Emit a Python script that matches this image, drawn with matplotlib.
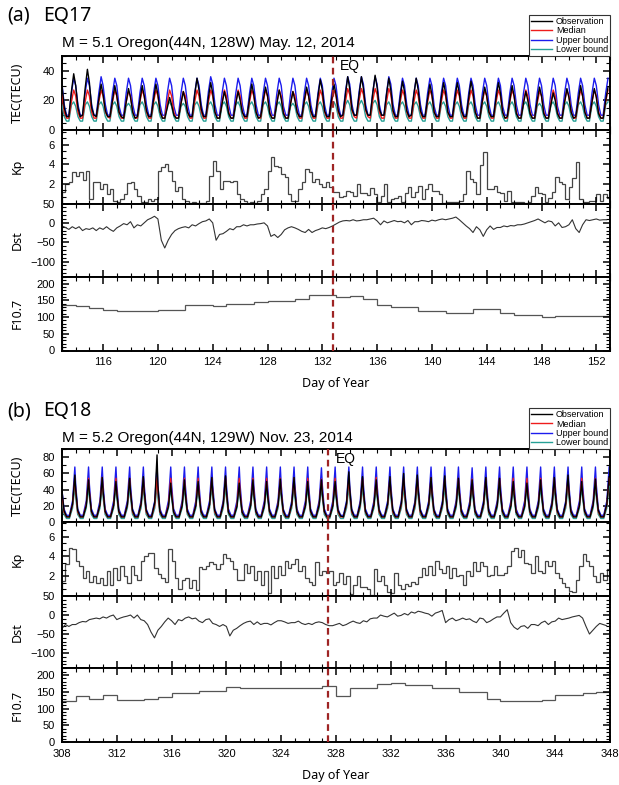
import numpy as np
import matplotlib
matplotlib.use('Agg')
import matplotlib.pyplot as plt
from matplotlib.ticker import MultipleLocator

plt.rcParams['font.family'] = ['Liberation Sans', 'DejaVu Sans']

# ---------------- data ----------------
# hours (UT) of the samples kept for each day
tec_hours_a = [0, 4, 8, 12, 16.5, 20.5]
tec_hours_b = [0, 3.5, 8, 13, 18.5, 22.5]
kp_hours = [0, 6, 12, 18]
dst_hours = [0, 6, 12, 18]

# EQ17 : days 113..152
first_day_a = 113
eq_day_a = 132.75
obs_a = [
    [30, 15, 9, 9, 26, 38], [30, 15, 9, 10, 28, 41], [32, 15, 10, 9, 21, 31], [24, 13, 9, 9, 20, 30], [23, 12, 9, 8, 19, 28],
    [22, 12, 8, 9, 20, 30], [23, 13, 9, 9, 21, 31], [24, 12, 8, 8, 15, 22], [17, 10, 8, 8, 18, 26], [20, 12, 9, 9, 24, 35],
    [27, 14, 9, 9, 22, 32], [25, 12, 8, 8, 18, 26], [20, 11, 8, 8, 18, 26], [20, 12, 9, 9, 21, 31], [24, 12, 8, 9, 20, 29],
    [23, 11, 8, 8, 18, 27], [21, 11, 8, 8, 18, 26], [20, 12, 9, 9, 20, 29], [23, 13, 9, 9, 23, 34], [27, 13, 9, 9, 21, 31],
    [24, 13, 9, 10, 24, 36], [28, 14, 10, 10, 24, 36], [28, 14, 10, 10, 25, 37], [29, 14, 10, 10, 24, 35], [27, 13, 9, 9, 22, 33],
    [26, 13, 9, 10, 24, 35], [27, 13, 9, 9, 21, 31], [24, 12, 9, 9, 22, 32], [25, 12, 9, 9, 22, 32], [25, 13, 9, 9, 22, 33],
    [26, 12, 8, 8, 20, 29], [23, 12, 9, 9, 22, 32], [25, 12, 8, 9, 20, 30], [23, 11, 8, 8, 18, 26], [20, 11, 8, 8, 20, 29],
    [23, 11, 8, 8, 17, 25], [20, 11, 8, 8, 19, 28], [22, 12, 8, 9, 20, 30], [23, 12, 8, 8, 19, 28], [22, 11, 8, 8, 20, 29],
]
median_a = [
    [24, 12, 8, 8, 19, 27], [23, 12, 8, 8, 19, 27], [23, 12, 8, 8, 19, 27], [23, 12, 9, 8, 19, 27], [23, 12, 8, 8, 19, 26],
    [23, 12, 8, 8, 19, 27], [23, 12, 8, 8, 19, 27], [23, 12, 8, 8, 19, 27], [23, 12, 8, 8, 18, 26], [23, 12, 8, 8, 19, 27],
    [23, 12, 8, 8, 19, 27], [23, 12, 8, 8, 19, 27], [23, 12, 8, 8, 19, 27], [23, 12, 8, 8, 19, 27], [23, 12, 8, 8, 19, 27],
    [23, 12, 8, 8, 19, 27], [23, 12, 8, 8, 18, 26], [23, 12, 8, 8, 19, 27], [23, 12, 8, 8, 19, 27], [23, 12, 8, 8, 19, 27],
    [23, 12, 8, 8, 19, 28], [24, 13, 9, 8, 20, 28], [24, 13, 9, 8, 20, 28], [24, 12, 8, 8, 19, 28], [24, 12, 8, 8, 19, 27],
    [23, 12, 8, 8, 19, 27], [23, 12, 8, 8, 19, 27], [23, 12, 8, 8, 19, 27], [23, 12, 8, 8, 19, 27], [23, 12, 8, 8, 19, 27],
    [23, 12, 8, 8, 19, 27], [23, 12, 8, 8, 19, 27], [23, 12, 8, 8, 19, 27], [23, 12, 8, 8, 19, 27], [23, 12, 8, 8, 18, 26],
    [23, 12, 8, 8, 19, 27], [23, 12, 8, 8, 19, 27], [23, 12, 8, 8, 19, 27], [23, 12, 8, 8, 19, 27], [23, 12, 8, 8, 19, 27],
]
upper_a = [
    [31, 17, 10, 10, 25, 35], [30, 17, 10, 10, 25, 35], [30, 17, 10, 10, 25, 36], [30, 17, 10, 10, 25, 35], [30, 16, 10, 10, 25, 35],
    [30, 17, 10, 10, 25, 35], [30, 17, 10, 10, 25, 35], [30, 17, 10, 10, 25, 35], [30, 16, 10, 10, 25, 35], [30, 17, 10, 10, 25, 35],
    [30, 17, 10, 10, 26, 36], [31, 17, 10, 10, 25, 35], [30, 17, 10, 10, 25, 35], [30, 17, 10, 10, 25, 35], [30, 17, 10, 10, 25, 35],
    [30, 17, 10, 10, 25, 35], [30, 16, 10, 10, 25, 35], [30, 17, 10, 10, 25, 35], [30, 17, 10, 10, 25, 35], [30, 17, 10, 10, 25, 35],
    [30, 17, 10, 10, 26, 36], [31, 17, 10, 10, 26, 36], [31, 17, 10, 10, 26, 36], [31, 17, 10, 10, 25, 36], [31, 17, 10, 10, 25, 35],
    [30, 17, 10, 10, 25, 35], [30, 17, 10, 10, 25, 35], [30, 16, 10, 10, 25, 35], [30, 17, 10, 10, 25, 35], [30, 17, 10, 10, 25, 35],
    [30, 17, 10, 10, 25, 35], [30, 17, 10, 10, 25, 35], [30, 16, 10, 10, 25, 35], [30, 17, 10, 10, 25, 35], [30, 17, 10, 10, 25, 35],
    [30, 17, 10, 10, 25, 35], [30, 16, 10, 10, 25, 35], [30, 17, 10, 10, 25, 35], [30, 17, 10, 10, 25, 35], [30, 17, 10, 10, 25, 35],
]
lower_a = [
    [17, 9, 6, 6, 17, 19], [16, 9, 6, 6, 17, 19], [16, 9, 6, 6, 17, 19], [16, 9, 6, 6, 17, 19], [16, 9, 6, 6, 16, 18],
    [16, 9, 6, 6, 17, 19], [16, 9, 6, 6, 17, 19], [16, 9, 6, 6, 17, 19], [16, 9, 6, 6, 16, 18], [16, 9, 6, 6, 17, 19],
    [16, 9, 6, 6, 17, 19], [16, 9, 6, 6, 17, 19], [16, 9, 6, 6, 17, 19], [16, 9, 6, 6, 17, 19], [16, 9, 6, 6, 17, 19],
    [16, 9, 6, 6, 17, 19], [16, 9, 6, 6, 16, 18], [16, 9, 6, 6, 17, 19], [16, 9, 6, 6, 17, 19], [16, 9, 6, 6, 17, 19],
    [16, 9, 6, 6, 17, 20], [17, 9, 6, 6, 17, 20], [17, 9, 6, 6, 18, 20], [17, 9, 6, 6, 17, 19], [16, 9, 6, 6, 17, 19],
    [16, 9, 6, 6, 17, 19], [16, 9, 6, 6, 17, 19], [16, 9, 6, 6, 17, 19], [16, 9, 6, 6, 17, 19], [16, 9, 6, 6, 17, 19],
    [16, 9, 6, 6, 17, 19], [16, 9, 6, 6, 17, 19], [16, 9, 6, 6, 17, 19], [16, 9, 6, 6, 17, 19], [16, 9, 6, 6, 16, 18],
    [16, 9, 6, 6, 17, 19], [16, 9, 6, 6, 17, 19], [16, 9, 6, 6, 17, 19], [16, 9, 6, 6, 17, 19], [16, 9, 6, 6, 17, 19],
]
kp_a = [
    [1.2, 2.0, 2.2, 3.2], [2.8, 3.2, 2.4, 3.3], [0.5, 2.2, 2.2, 1.5], [2.0, 1.0, 1.5, 0.3], [0.2, 0.5, 1.0, 2.1],
    [2.2, 1.5, 0.8, 0.2], [0.2, 0.5, 0.3, 0.5], [3.3, 3.7, 4.0, 3.3], [2.3, 1.3, 1.7, 0.5], [0.3, 0.1, 0.2, 0.1],
    [0.1, 0.1, 0.3, 2.8], [4.3, 3.3, 1.5, 2.3], [2.3, 2.2, 2.3, 1.0], [0.5, 0.3, 0.1, 0.2], [0.1, 0.3, 1.0, 1.5],
    [3.3, 4.7, 3.8, 3.7], [3.0, 2.7, 1.0, 0.3], [0.3, 1.5, 2.2, 3.5], [3.2, 2.2, 2.5, 2.0], [1.7, 2.2, 1.7, 1.2],
    [1.2, 0.7, 0.8, 1.3], [1.2, 0.8, 2.0, 1.1], [1.1, 0.9, 1.6, 1.0], [0.2, 0.8, 2.0, 0.2], [0.5, 0.6, 0.8, 0.2],
    [1.1, 1.7, 0.7, 1.2], [1.8, 0.5, 1.5, 2.0], [1.3, 1.3, 1.0, 0.1], [0.2, 0.2, 0.2, 0.2], [0.3, 1.0, 3.3, 2.5],
    [2.2, 1.0, 3.9, 5.3], [1.5, 1.5, 1.8, 1.2], [1.1, 0.3, 1.3, 0.2], [0.2, 0.2, 0.2, 0.1], [0.2, 0.8, 1.7, 1.1],
    [1.0, 0.2, 0.6, 1.2], [2.7, 2.2, 2.0, 0.5], [1.7, 2.6, 4.2, 0.5], [0.2, 0.2, 0.3, 0.3], [1.0, 0.3, 1.0, 0.6],
]
dst_a = [
    [-8, -12, -17, -10], [-15, -10, -20, -15], [-17, -13, -20, -13], [-17, -10, -17, -22], [-13, -8, -2, -5],
    [3, -13, -5, -8], [0, 8, 12, 17], [10, -45, -65, -45], [-30, -20, -15, -12], [-10, -13, -5, -8],
    [-2, 3, 5, 10], [0, -45, -30, -28], [-22, -15, -18, -10], [-10, -5, -8, -5], [-5, -3, -2, 0],
    [-8, -35, -30, -38], [-30, -18, -13, -10], [-13, -17, -22, -25], [-17, -25, -20, -17], [-13, -15, -12, -8],
    [-3, 2, 5, 6], [5, 8, 5, 6], [8, 8, 10, 12], [5, -5, 5, 0], [3, 6, 3, 4],
    [0, 6, -5, 3], [3, 6, 5, 3], [7, 5, 8, 10], [8, 10, 12, 15], [8, 0, -8, -15],
    [-25, -10, -18, -35], [-18, -8, -17, -12], [-12, -8, -10, -7], [-8, -5, -5, -3], [0, 3, 6, 10],
    [5, 0, 5, 3], [-8, 0, -12, -10], [-5, 8, -15, -25], [-5, 8, 6, 8], [10, 7, 8, 8],
]
f107_a = [137, 132, 128, 121, 119, 118, 118, 121, 121, 137, 137, 132, 139, 139, 144, 149, 149, 154, 165, 165,
          160, 163, 153, 137, 131, 131, 117, 117, 112, 112, 124, 124, 111, 107, 107, 99, 102, 102, 102, 102]

# EQ18 : days 308..347
first_day_b = 308
eq_day_b = 327.45
obs_b = [
    [38, 14, 6, 6, 22, 58], [40, 14, 6, 6, 20, 52], [36, 13, 6, 6, 21, 55], [38, 13, 6, 6, 20, 50], [35, 13, 6, 6, 21, 54],
    [37, 14, 6, 6, 22, 56], [38, 14, 6, 6, 24, 83], [45, 13, 6, 6, 19, 48], [33, 12, 6, 6, 20, 52], [35, 13, 6, 6, 20, 50],
    [34, 13, 6, 6, 21, 55], [37, 14, 6, 6, 22, 57], [38, 12, 6, 6, 19, 48], [33, 12, 6, 6, 20, 52], [35, 13, 6, 6, 20, 50],
    [34, 13, 6, 6, 21, 53], [36, 14, 6, 6, 22, 55], [37, 13, 6, 6, 20, 50], [34, 13, 6, 6, 21, 52], [35, 13, 6, 6, 20, 50],
    [34, 14, 7, 6, 23, 62], [41, 14, 6, 6, 22, 56], [38, 13, 6, 6, 21, 52], [35, 14, 6, 6, 22, 56], [38, 14, 6, 6, 23, 60],
    [40, 14, 6, 6, 23, 58], [39, 14, 6, 6, 22, 55], [37, 14, 6, 6, 22, 57], [38, 13, 6, 6, 21, 54], [36, 13, 6, 6, 21, 52],
    [35, 13, 6, 6, 22, 55], [37, 13, 6, 6, 21, 54], [36, 13, 6, 6, 20, 50], [34, 12, 6, 6, 19, 48], [33, 13, 6, 6, 21, 52],
    [35, 13, 6, 6, 22, 55], [37, 14, 6, 6, 23, 58], [39, 13, 6, 6, 20, 50], [34, 13, 6, 6, 21, 53], [36, 14, 6, 6, 22, 56],
]
median_b = [
    [33, 12, 6, 6, 21, 54], [37, 12, 6, 6, 21, 54], [37, 12, 6, 6, 21, 55], [37, 12, 6, 6, 21, 54], [37, 12, 6, 6, 21, 54],
    [37, 12, 6, 6, 21, 54], [37, 12, 6, 6, 21, 55], [37, 12, 6, 6, 21, 54], [37, 12, 6, 6, 21, 54], [37, 12, 6, 6, 21, 54],
    [37, 12, 6, 6, 21, 54], [37, 12, 6, 6, 21, 55], [37, 12, 6, 6, 21, 54], [37, 12, 6, 6, 21, 54], [37, 12, 6, 6, 21, 54],
    [37, 12, 6, 6, 21, 54], [37, 12, 6, 6, 21, 54], [37, 12, 6, 6, 21, 54], [37, 12, 6, 6, 21, 53], [37, 12, 6, 6, 21, 54],
    [37, 12, 6, 6, 21, 54], [37, 12, 6, 6, 21, 54], [37, 12, 6, 6, 21, 55], [37, 12, 6, 6, 21, 54], [37, 12, 6, 6, 21, 54],
    [37, 12, 6, 6, 21, 54], [37, 12, 6, 6, 21, 54], [37, 12, 6, 6, 21, 54], [37, 12, 6, 6, 21, 54], [37, 12, 6, 6, 21, 53],
    [37, 12, 6, 6, 21, 54], [37, 12, 6, 6, 21, 54], [37, 12, 6, 6, 21, 54], [37, 12, 6, 6, 21, 54], [37, 12, 6, 6, 21, 54],
    [37, 12, 6, 6, 21, 54], [37, 12, 6, 6, 21, 55], [37, 12, 6, 6, 21, 54], [37, 12, 6, 6, 21, 54], [37, 12, 6, 6, 21, 54],
]
upper_b = [
    [39, 16, 8, 8, 26, 68], [46, 16, 8, 8, 26, 68], [46, 16, 8, 8, 26, 68], [46, 16, 8, 8, 26, 68], [46, 16, 8, 8, 26, 68],
    [46, 16, 8, 8, 26, 68], [46, 16, 8, 8, 26, 69], [46, 16, 8, 8, 26, 68], [46, 16, 8, 8, 26, 68], [46, 16, 8, 8, 26, 68],
    [46, 16, 8, 8, 26, 68], [46, 16, 8, 8, 26, 68], [46, 16, 8, 8, 26, 68], [46, 16, 8, 8, 26, 68], [46, 16, 8, 8, 26, 68],
    [46, 16, 8, 8, 26, 68], [46, 16, 8, 8, 26, 68], [46, 16, 8, 8, 26, 68], [46, 16, 8, 8, 26, 67], [46, 16, 8, 8, 26, 68],
    [46, 16, 8, 8, 26, 68], [46, 16, 8, 8, 26, 68], [46, 16, 8, 8, 26, 68], [46, 16, 8, 8, 26, 68], [46, 16, 8, 8, 26, 68],
    [46, 16, 8, 8, 26, 68], [46, 16, 8, 8, 26, 68], [46, 16, 8, 8, 26, 68], [46, 16, 8, 8, 26, 68], [46, 16, 8, 8, 26, 67],
    [46, 16, 8, 8, 26, 68], [46, 16, 8, 8, 26, 68], [46, 16, 8, 8, 26, 68], [46, 16, 8, 8, 26, 68], [46, 16, 8, 8, 26, 68],
    [46, 16, 8, 8, 26, 68], [46, 16, 8, 8, 26, 68], [46, 16, 8, 8, 26, 68], [46, 16, 8, 8, 26, 68], [46, 16, 8, 8, 26, 68],
]
lower_b = [
    [27, 9, 4, 4, 17, 44], [30, 9, 4, 4, 17, 44], [30, 9, 4, 4, 17, 44], [30, 9, 4, 4, 17, 44], [30, 9, 4, 4, 17, 44],
    [30, 9, 4, 4, 17, 44], [30, 9, 4, 4, 17, 45], [30, 9, 4, 4, 17, 44], [30, 9, 4, 4, 17, 44], [30, 9, 4, 4, 17, 44],
    [30, 9, 4, 4, 17, 44], [30, 9, 4, 4, 17, 44], [30, 9, 4, 4, 17, 44], [30, 9, 4, 4, 17, 44], [30, 9, 4, 4, 17, 44],
    [30, 9, 4, 4, 17, 44], [30, 9, 4, 4, 17, 44], [30, 9, 4, 4, 17, 44], [30, 9, 4, 4, 17, 43], [30, 9, 4, 4, 17, 44],
    [30, 9, 4, 4, 17, 44], [30, 9, 4, 4, 17, 44], [30, 9, 4, 4, 17, 44], [30, 9, 4, 4, 17, 44], [30, 9, 4, 4, 17, 44],
    [30, 9, 4, 4, 17, 44], [30, 9, 4, 4, 17, 44], [30, 9, 4, 4, 17, 44], [30, 9, 4, 4, 17, 44], [30, 9, 4, 4, 17, 43],
    [30, 9, 4, 4, 17, 44], [30, 9, 4, 4, 17, 44], [30, 9, 4, 4, 17, 44], [30, 9, 4, 4, 17, 44], [30, 9, 4, 4, 17, 44],
    [30, 9, 4, 4, 17, 44], [30, 9, 4, 4, 17, 44], [30, 9, 4, 4, 17, 44], [30, 9, 4, 4, 17, 44], [30, 9, 4, 4, 17, 44],
]
kp_b = [
    [1.5, 3.2, 4.8, 4.7], [3.5, 3.0, 1.8, 2.5], [1.4, 2.0, 1.3, 1.8], [1.1, 2.5, 1.1, 2.8], [1.6, 3.0, 2.0, 1.3],
    [3.0, 2.1, 1.6, 3.5], [4.0, 4.3, 4.3, 2.8], [2.2, 1.8, 1.4, 4.7], [3.5, 1.8, 0.7, 1.6], [1.8, 0.8, 1.6, 0.6],
    [2.9, 2.7, 3.0, 3.4], [3.2, 2.7, 3.2, 4.2], [3.8, 3.5, 2.7, 1.6], [1.6, 3.2, 2.3, 3.0], [1.6, 2.5, 1.1, 2.5],
    [0.3, 3.0, 1.8, 3.0], [2.1, 3.5, 2.8, 3.2], [3.7, 2.5, 3.0, 1.8], [1.4, 1.1, 3.4, 2.1], [2.5, 2.3, 2.5, 1.1],
    [1.4, 2.3, 1.2, 2.0], [0.2, 1.1, 2.0, 0.9], [0.9, 0.7, 0.1, 2.7], [1.5, 2.0, 1.1, 0.4], [0.3, 2.3, 1.1, 0.7],
    [1.2, 1.0, 1.4, 1.2], [1.9, 2.8, 2.1, 3.0], [2.1, 3.5, 2.7, 2.3], [3.0, 1.8, 2.8, 2.0], [2.1, 1.1, 2.5, 2.0],
    [3.4, 2.5, 3.4, 3.0], [2.0, 2.1, 3.0, 2.1], [2.1, 2.3, 3.0, 4.5], [4.8, 3.9, 4.6, 3.3], [3.2, 2.3, 4.0, 2.5],
    [2.3, 3.5, 3.0, 3.5], [2.3, 1.8, 1.3, 0.9], [0.5, 0.4, 1.6, 3.0], [4.2, 3.5, 3.0, 2.0], [1.4, 2.3, 1.6, 2.7],
]
dst_b = [
    [-35, -25, -30, -25], [-25, -20, -17, -18], [-12, -10, -8, -10], [-5, -8, -3, 0], [-12, -8, -5, -3],
    [0, -8, 0, -12], [-15, -25, -45, -60], [-40, -30, -18, -8], [-15, -25, -12, -15], [-8, -5, -10, -8],
    [-16, -20, -12, -10], [-22, -25, -30, -25], [-30, -55, -40, -35], [-28, -22, -18, -16], [-25, -18, -25, -22],
    [-22, -26, -20, -15], [-15, -18, -22, -20], [-20, -16, -22, -25], [-22, -25, -20, -18], [-20, -25, -28, -28],
    [-25, -22, -28, -25], [-20, -16, -20, -22], [-15, -18, -10, -8], [-8, 0, -3, -5], [0, 5, -3, -1],
    [4, 0, 8, 5], [10, 8, 5, 3], [-3, 5, 8, 12], [-20, -12, -8, -15], [-12, -8, -12, -10],
    [-16, -20, -8, -10], [-20, -16, -10, -5], [-5, 5, 14, -20], [-32, -38, -30, -28], [-35, -25, -25, -28],
    [-20, -16, -25, -18], [-16, -8, -12, -10], [-8, -5, -3, -1], [-8, -30, -50, -40], [-30, -22, -25, -28],
]
f107_b = [122, 139, 129, 142, 126, 126, 128, 134, 147, 147, 152, 152, 165, 161, 161, 162, 162, 160, 162, 167,
          137, 160, 160, 172, 175, 170, 170, 160, 160, 150, 150, 129, 122, 122, 122, 125, 142, 142, 147, 150]

legend_labels = ['Observation', 'Median', 'Upper bound', 'Lower bound']
colors = ['black', '#ee1c1c', '#1c1cee', '#26a096']

# ---------------- figure ----------------
W, H = 619, 785
fig = plt.figure(figsize=(W / 100, H / 100), dpi=100)


def times(first_day, rows, hours):
    d = np.arange(first_day, first_day + len(rows))
    return (d[:, None] + np.array(hours)[None, :] / 24.0).ravel()


def draw_event(edges_px, first_day, eq_day, tec_hours, obs, med, up, low, kp, dst, f107,
               tec_top, tec_step, tag, name, title, tag_y, title_y, xlab_y):
    axs = []
    for top, bot in zip(edges_px[:-1], edges_px[1:]):
        axs.append(fig.add_axes([62 / W, 1 - bot / H, 548 / W, (bot - top) / H]))
    ax_tec, ax_kp, ax_dst, ax_f = axs

    t = times(first_day, obs, tec_hours)
    h_obs, = ax_tec.plot(t, np.ravel(obs), color=colors[0], lw=1.0, zorder=5)
    h_med, = ax_tec.plot(t, np.ravel(med), color=colors[1], lw=1.0, zorder=4)
    h_up, = ax_tec.plot(t, np.ravel(up), color=colors[2], lw=1.0, zorder=2)
    h_low, = ax_tec.plot(t, np.ravel(low), color=colors[3], lw=1.0, zorder=3)
    ax_tec.set_ylim(0, tec_top)
    ax_tec.yaxis.set_major_locator(MultipleLocator(20))
    ax_tec.yaxis.set_minor_locator(MultipleLocator(tec_step))

    kp_edges = np.append(times(first_day, kp, kp_hours), first_day + len(kp))
    ax_kp.stairs(np.ravel(kp), kp_edges, color='#444444', lw=0.9)
    ax_kp.set_ylim(0, 7.5)
    ax_kp.set_yticks([2, 4, 6])
    ax_kp.yaxis.set_minor_locator(MultipleLocator(2 / 3))

    ax_dst.plot(times(first_day, dst, dst_hours), np.ravel(dst), color='#333333', lw=0.8)
    ax_dst.set_ylim(-140, 50)
    ax_dst.set_yticks([-100, -50, 0, 50])
    ax_dst.yaxis.set_minor_locator(MultipleLocator(10))

    f_edges = np.arange(first_day, first_day + len(f107) + 1)
    ax_f.stairs(f107, f_edges, color='#555555', lw=0.9)
    ax_f.set_ylim(0, 220)
    ax_f.set_yticks([0, 50, 100, 150, 200])
    ax_f.yaxis.set_minor_locator(MultipleLocator(10))

    for ax, lab in zip(axs, ['TEC(TECU)', 'Kp', 'Dst', 'F10.7']):
        ax.set_xlim(first_day, first_day + 40)
        ax.xaxis.set_major_locator(MultipleLocator(4))
        ax.xaxis.set_minor_locator(MultipleLocator(1))
        ax.tick_params(which='both', direction='in', top=True, right=True, labelsize=8, pad=5)
        ax.tick_params(which='major', length=5, width=1.1)
        ax.tick_params(which='minor', length=2.8, width=0.8)
        ax.tick_params(axis='x', labelbottom=False)
        for s in ax.spines.values():
            s.set_linewidth(1.4)
        ax.set_ylabel(lab, family='Noto Sans', fontsize=9, va='center')
        ax.yaxis.set_label_coords(-0.082, 0.5)
        ax.axvline(eq_day, color='#9e2424', lw=1.6, ls=(0, (3, 2)), zorder=6)
    ax_f.tick_params(axis='x', labelbottom=True)

    ax_tec.text(eq_day + 0.55, 0.86, 'EQ', transform=ax_tec.get_xaxis_transform(),
                fontsize=10, va='center', ha='left')

    leg = ax_tec.legend([h_obs, h_med, h_up, h_low], legend_labels, loc='lower right',
                        bbox_to_anchor=(1.0, 1.0), borderaxespad=0, fontsize=6.5,
                        fancybox=False, edgecolor='#333333', framealpha=1,
                        handlelength=2.4, handletextpad=0.4, labelspacing=0.05, borderpad=0.2)
    leg.get_frame().set_linewidth(0.8)

    fig.text(7 / W, 1 - tag_y / H, tag, family='Noto Sans', fontsize=14, va='center')
    fig.text(43 / W, 1 - tag_y / H, name, family='Noto Sans', fontsize=14, va='center')
    fig.text(62 / W, 1 - title_y / H, title, fontsize=11, va='center')
    fig.text(336 / W, 1 - xlab_y / H, 'Day of Year', family='Noto Sans', fontsize=9,
             ha='center', va='center')


draw_event([56, 130, 203.5, 277, 350.5], first_day_a, eq_day_a, tec_hours_a,
           obs_a, median_a, upper_a, lower_a, kp_a, dst_a, f107_a, 50, 5,
           '(a)', 'EQ17', 'M = 5.1 Oregon(44N, 128W) May. 12, 2014', 16, 43, 383)
draw_event([449.3, 521.7, 596, 668.3, 742.3], first_day_b, eq_day_b, tec_hours_b,
           obs_b, median_b, upper_b, lower_b, kp_b, dst_b, f107_b, 90, 10,
           '(b)', 'EQ18', 'M = 5.2 Oregon(44N, 129W) Nov. 23, 2014', 411, 437.7, 776)

fig.savefig('out.png', dpi=100)
